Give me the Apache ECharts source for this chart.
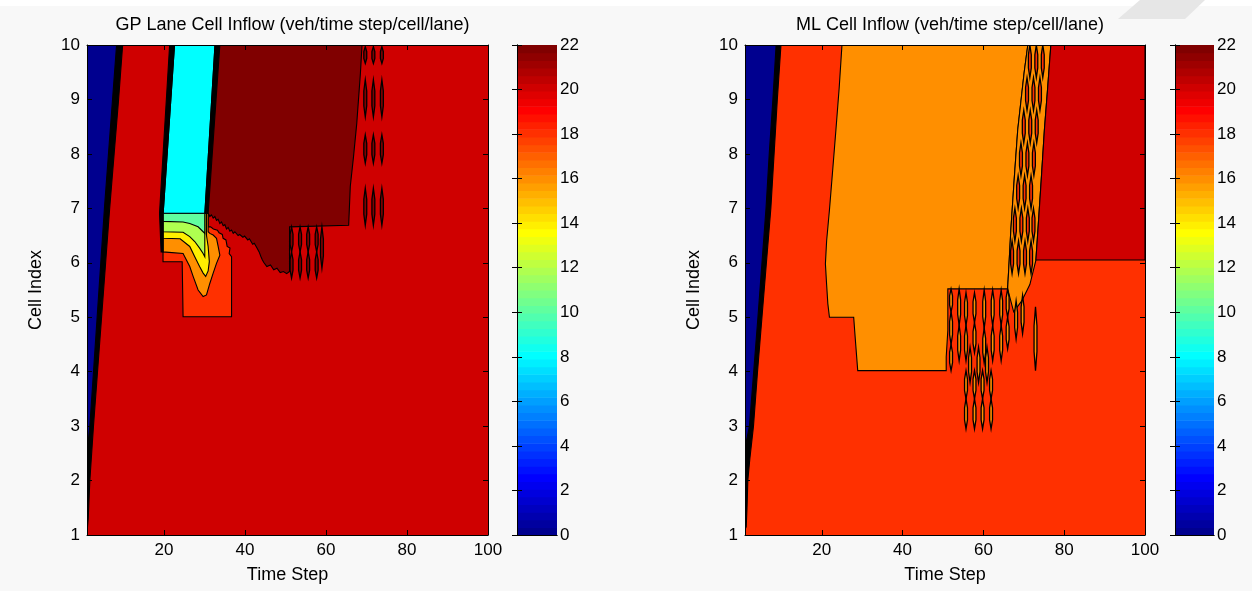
<!DOCTYPE html>
<html><head><meta charset="utf-8">
<script src="https://cdn.jsdelivr.net/npm/echarts@6/dist/echarts.min.js"></script>
<style>html,body{margin:0;padding:0;background:#f8f8f8;}#c{width:1252px;height:591px;}</style>
</head><body><div id="c"></div>
<script>
// ================= DATA =================
const titles = ['GP Lane Cell Inflow (veh/time step/cell/lane)', 'ML Cell Inflow (veh/time step/cell/lane)'];
const xTicks = [20, 40, 60, 80, 100];
const colorMin = 0, colorMax = 22, colorStep = 2;

// ---- GP lane: contour regions [time step, cell index] with level ----
const gpBase = [[1,1],[100,1],[100,10],[1,10]];
const gpFront = [[1,1.05],[1.3,1.3],[1.7,2],[2.6,3],[3.6,4],[4.6,5],[5.6,6],[6.6,7],[7.7,8],[8.8,9],[9.8,10],[8.3,10],[7.3,9],[6.3,8],[5.3,7],[4.4,6],[3.5,5],[2.6,4],[1.7,3],[1,2.5]];
const gpBlue = [[1,10],[8.3,10],[7.3,9],[6.3,8],[5.3,7],[4.4,6],[3.5,5],[2.6,4],[1.7,3],[1,2.5]];
const gp18 = [[19.77,6.91],[19.77,6.02],[24.5,6.02],[24.72,5.01],[36.69,5.01],[36.69,6.11],[36.1,6.17],[36.3,6.27],[35.6,6.3],[35.3,6.42],[34.6,6.45],[34.4,6.52],[33.6,6.55],[33.2,6.6],[32.2,6.62],[31.5,6.66],[30.91,6.66],[30.91,6.91]];
const gp16 = [[19.77,6.91],[19.77,6.2],[24.72,6.17],[26.37,5.93],[27.2,5.75],[28.43,5.5],[29.67,5.38],[30.5,5.41],[31.32,5.62],[32.15,5.81],[32.97,5.99],[33.8,6.14],[33.38,6.3],[32.97,6.45],[32.15,6.51],[31.32,6.54],[30.91,6.57],[30.91,6.91]];
const gp14 = [[19.77,6.91],[19.77,6.45],[24.0,6.44],[26.37,6.3],[27.6,6.11],[28.8,5.93],[29.67,5.81],[30.3,5.75],[30.91,5.85],[31.2,6.02],[30.91,6.3],[30.5,6.5],[30.5,6.91]];
const gp12 = [[19.77,6.91],[19.77,6.57],[24.72,6.56],[26.37,6.48],[27.6,6.39],[28.8,6.27],[29.67,6.17],[30.08,6.11],[30.08,6.91]];
const gp10 = [[19.77,6.91],[19.77,6.76],[24.72,6.75],[26.37,6.72],[28.43,6.66],[29.67,6.57],[30.08,6.54],[30.08,6.91]];
const gpCyan = [[19.8,6.91],[22.6,10],[32.6,10],[30.1,6.91]];
const gpEdgeL = [[19.3,6.2],[18.9,6.91],[21.4,10],[22.6,10],[19.8,6.91],[19.8,6.2]];
const gpEdgeR = [[30.1,6.91],[32.6,10],[33.8,10],[30.9,6.91]];
const gp22 = [[33.8,10],[30.91,6.91],[31.32,6.85],[31.73,6.88],[32.15,6.82],[32.56,6.85],[32.97,6.78],[33.38,6.8],[33.8,6.72],[34.21,6.75],[34.62,6.68],[35.03,6.7],[35.44,6.62],[35.85,6.65],[36.27,6.58],[36.69,6.6],[37.1,6.54],[37.5,6.57],[38.3,6.5],[38.7,6.52],[39.5,6.47],[39.9,6.49],[40.7,6.42],[41.1,6.44],[41.9,6.34],[42.3,6.36],[42.9,6.28],[43.5,6.2],[43.9,6.12],[44.3,6.05],[44.7,6.0],[45.4,5.93],[46.3,5.96],[47.1,5.87],[47.9,5.9],[48.7,5.82],[49.5,5.84],[50.3,5.8],[51.0,5.84],[51.0,6.66],[65.6,6.69],[66.0,7.4],[66.8,7.95],[67.6,8.56],[68.5,9.48],[68.9,10]];
// small oscillation lenses: [time step, cell from, cell to, level]
const gpLenses = [
  [51.5,5.72,6.2,22],[51.5,6.2,6.66,22],[53.6,5.72,6.2,22],[53.6,6.2,6.66,22],
  [55.6,5.72,6.2,22],[55.6,6.2,6.66,22],[57.7,5.72,6.2,22],[57.7,6.2,6.66,22],
  [59.0,5.9,6.66,22],
  [69.7,9.66,9.97,22],[71.7,9.66,9.97,22],[73.8,9.66,9.97,22],
  [69.7,8.68,9.36,22],[71.7,8.68,9.36,22],[73.8,8.68,9.36,22],
  [69.7,7.83,8.35,22],[71.7,7.83,8.35,22],[73.8,7.83,8.35,22],
  [69.7,6.69,7.37,22],[71.7,6.69,7.37,22],[73.8,6.69,7.37,22]
];

// ---- ML: contour regions ----
const mlBase = [[1,1],[100,1],[100,10],[1,10]];
const mlFront = [[1,1.1],[1.3,1.15],[1.5,1.5],[1.7,2],[2.2,2.4],[3.1,3],[4.1,4],[5.2,5],[6.3,6],[7.4,7],[8.2,8],[9.0,9],[9.9,10],[8.7,10],[7.9,9],[7.0,8],[6.2,7],[5.2,6],[4.2,5],[3.15,4],[2.1,3],[1,2.6]];
const mlBlue = [[1,10],[8.7,10],[7.9,9],[7.0,8],[6.2,7],[5.2,6],[4.2,5],[3.15,4],[2.1,3],[1,2.6]];
const ml16 = [[25.0,10],[24.3,9.2],[23.5,8.44],[22.7,7.7],[21.9,6.97],[21.2,6.4],[20.9,5.98],[21.2,5.6],[21.5,5.25],[21.9,5.0],[27.9,5.0],[28.3,4.6],[28.9,4.02],[50.8,4.02],[50.8,4.27],[51.2,4.76],[51.2,5.52],[66.0,5.52],[66.4,6.05],[66.8,6.6],[67.6,7.5],[68.5,8.44],[70.1,9.5],[71.0,10]];
const mlBand = [[71.0,10],[76.7,10],[75.9,9.2],[75.1,8.44],[74.3,7.5],[73.5,6.6],[73.0,6.05],[71.5,5.6],[69.5,5.3],[67.5,5.1],[66.0,5.52],[66.4,6.05],[66.8,6.6],[67.6,7.5],[68.5,8.44],[70.1,9.5]];
const ml20 = [[76.7,10],[100,10],[100,6.05],[73.0,6.05],[73.5,6.6],[74.3,7.5],[75.1,8.44],[75.9,9.2]];
const mlLenses = [
  // diagonal band
  [71.5,9.4,10,18],[73.1,9.4,10,18],[74.7,9.4,10,18],
  [70.8,8.8,9.4,18],[72.4,8.8,9.4,18],[74.0,8.8,9.4,18],
  [70.0,8.2,8.8,18],[71.6,8.2,8.8,18],[73.2,8.2,8.8,18],
  [69.3,7.6,8.2,18],[70.9,7.6,8.2,18],[72.5,7.6,8.2,18],
  [68.6,7.0,7.6,18],[70.2,7.0,7.6,18],[71.8,7.0,7.6,18],
  [67.8,6.4,7.0,18],[69.4,6.4,7.0,18],[71.0,6.4,7.0,18],[72.4,6.4,7.0,18],
  [67.1,5.8,6.4,18],[68.7,5.8,6.4,18],[70.3,5.8,6.4,18],[71.8,5.8,6.4,18],
  // lower oscillation zone
  [52.0,4.02,4.5,16],[52.0,4.5,5.1,16],[52.0,5.1,5.52,16],
  [54.0,4.2,4.85,16],[54.0,4.85,5.52,16],
  [55.7,4.2,4.85,16],[55.7,4.85,5.45,16],
  [57.8,4.35,4.9,16],[57.8,4.9,5.45,16],
  [60.2,4.16,4.8,16],[60.2,4.8,5.5,16],
  [62.3,4.2,4.85,16],[62.3,4.85,5.5,16],
  [64.4,4.2,4.85,16],[64.4,4.85,5.5,16],
  [66.0,4.42,5.0,16],[66.0,5.0,5.52,16],
  [68.1,4.6,5.3,16],[69.7,4.7,5.4,16],
  [56.7,3.8,4.45,16],[58.8,3.8,4.45,16],[60.9,3.8,4.45,16],
  [55.7,3.5,4.02,16],[55.7,2.95,3.5,16],[57.8,3.5,4.02,16],[57.8,2.95,3.5,16],
  [59.8,3.5,4.02,16],[59.8,2.95,3.5,16],[61.9,3.5,4.02,16],[61.9,2.95,3.5,16],
  [72.9,4.02,5.19,16]
];

// ================= RENDERING =================
function jet(level) {
  let row = Math.floor((level - colorMin) / (colorMax - colorMin) * 64) + 1;
  row = Math.max(1, Math.min(64, row));
  let r = 0, g = 0, b = 0;
  if (row <= 8) { b = 0.5 + row / 16; }
  else if (row <= 24) { b = 1; g = (row - 8) / 16; }
  else if (row <= 40) { r = (row - 24) / 16; g = 1; b = 1 - (row - 24) / 16; }
  else if (row <= 56) { r = 1; g = 1 - (row - 40) / 16; }
  else { r = 1 - (row - 56) / 16; }
  const h = v => Math.round(v * 255).toString(16).padStart(2, '0');
  return '#' + h(r) + h(g) + h(b);
}

const gpLayers = [
  {pts: gpBase, level: 20, base: true}, {pts: gpFront, level: null}, {pts: gpBlue, level: 0},
  {pts: gp18, level: 18}, {pts: gp16, level: 16}, {pts: gp14, level: 14},
  {pts: gp12, level: 12}, {pts: gp10, level: 10}, {pts: gpCyan, level: 8},
  {pts: gpEdgeL, level: null}, {pts: gpEdgeR, level: null}, {pts: gp22, level: 22}
];
const mlLayers = [
  {pts: mlBase, level: 18, base: true}, {pts: mlFront, level: null}, {pts: mlBlue, level: 0},
  {pts: ml16, level: 16}, {pts: mlBand, level: 16}, {pts: ml20, level: 20}
];

function regionSeries(layers, idx) {
  return {
    type: 'custom', xAxisIndex: idx * 2, yAxisIndex: idx * 2, clip: true, silent: true,
    data: layers.map(l => l.pts[0]),
    renderItem: function (params, api) {
      const l = layers[params.dataIndex];
      const pts = l.pts.map(p => api.coord(p));
      return {type: 'polygon', shape: {points: pts},
        style: {fill: l.level === null ? '#000' : jet(l.level), stroke: '#000', lineWidth: l.base ? 0 : 1.1}};
    }
  };
}
function lensSeries(lenses, idx) {
  return {
    type: 'custom', xAxisIndex: idx * 2, yAxisIndex: idx * 2, clip: true, silent: true,
    data: lenses, encode: {x: 0, y: 1},
    renderItem: function (params, api) {
      const x = api.value(0), y0 = api.value(1), y1 = api.value(2), lv = api.value(3);
      const h = y1 - y0, w = 0.36;
      const pts = [[x, y0], [x + w, y0 + h * 0.3], [x + w, y1 - h * 0.3], [x, y1], [x - w, y1 - h * 0.3], [x - w, y0 + h * 0.3]].map(p => api.coord(p));
      return {type: 'polygon', shape: {points: pts}, style: {fill: jet(lv), stroke: '#000', lineWidth: 1.3}};
    }
  };
}
const colorBands = [];
for (let i = 0; i < 64; i++) colorBands.push([0, colorMin + i * (colorMax - colorMin) / 64]);
function colorbarSeries(idx) {
  return {
    type: 'custom', xAxisIndex: 4 + idx * 2, yAxisIndex: 4 + idx * 2, silent: true,
    data: colorBands,
    renderItem: function (params, api) {
      const lo = api.value(1), hi = lo + (colorMax - colorMin) / 64;
      const a = api.coord([0, hi]), b = api.coord([1, lo]);
      return {type: 'rect', shape: {x: a[0], y: a[1], width: b[0] - a[0], height: b[1] - a[1] + 0.6},
        style: {fill: jet(lo + 0.001)}};
    }
  };
}

const FONT = 'Liberation Sans, Arial, sans-serif';
const FS = 17, FS_NAME = 18;
const plotGrids = [
  {left: 87, top: 45, width: 401, height: 490},
  {left: 745, top: 45, width: 400, height: 490}
];
const cbGrids = [
  {left: 517, top: 45, width: 40, height: 490},
  {left: 1175, top: 45, width: 39, height: 490}
];
const grids = plotGrids.concat(cbGrids);
const lineBlack = {show: true, lineStyle: {color: '#000', width: 1}};
const xAxes = [], yAxes = [];
[0, 1].forEach(i => {
  xAxes.push({gridIndex: i, type: 'value', min: 1, max: 100, position: 'bottom', z: 10,
    axisLine: lineBlack, splitLine: {show: false},
    axisTick: {inside: true, length: 5, customValues: xTicks, lineStyle: {color: '#000'}},
    axisLabel: {customValues: xTicks, color: '#000', fontFamily: FONT, fontSize: FS, margin: 7},
    name: 'Time Step', nameLocation: 'middle', nameGap: 31,
    nameTextStyle: {color: '#000', fontFamily: FONT, fontSize: FS_NAME}});
  xAxes.push({gridIndex: i, type: 'value', min: 1, max: 100, position: 'top', z: 10,
    axisLine: lineBlack, splitLine: {show: false},
    axisTick: {inside: true, length: 5, customValues: xTicks, lineStyle: {color: '#000'}},
    axisLabel: {show: false}});
  yAxes.push({gridIndex: i, type: 'value', min: 1, max: 10, interval: 1, position: 'left', z: 10,
    axisLine: lineBlack, splitLine: {show: false},
    axisTick: {inside: true, length: 5, lineStyle: {color: '#000'}},
    axisLabel: {color: '#000', fontFamily: FONT, fontSize: FS, margin: 7},
    name: 'Cell Index', nameLocation: 'middle', nameGap: 42, nameRotate: 90,
    nameTextStyle: {color: '#000', fontFamily: FONT, fontSize: FS_NAME}});
  yAxes.push({gridIndex: i, type: 'value', min: 1, max: 10, interval: 1, position: 'right', z: 10,
    axisLine: lineBlack, splitLine: {show: false},
    axisTick: {inside: true, length: 5, lineStyle: {color: '#000'}},
    axisLabel: {show: false}});
});
[0, 1].forEach(i => {
  const g = 2 + i;
  xAxes.push({gridIndex: g, type: 'value', min: 0, max: 1, position: 'bottom', z: 10,
    axisLine: lineBlack, axisTick: {show: false}, axisLabel: {show: false}, splitLine: {show: false}});
  xAxes.push({gridIndex: g, type: 'value', min: 0, max: 1, position: 'top', z: 10,
    axisLine: lineBlack, axisTick: {show: false}, axisLabel: {show: false}, splitLine: {show: false}});
  yAxes.push({gridIndex: g, type: 'value', min: colorMin, max: colorMax, interval: colorStep, position: 'right', z: 10,
    axisLine: lineBlack, splitLine: {show: false},
    axisTick: {inside: true, length: 5, lineStyle: {color: '#000'}},
    axisLabel: {color: '#000', fontFamily: FONT, fontSize: FS, margin: 3}});
  yAxes.push({gridIndex: g, type: 'value', min: colorMin, max: colorMax, interval: colorStep, position: 'left', z: 10,
    axisLine: lineBlack, splitLine: {show: false},
    axisTick: {inside: true, length: 5, lineStyle: {color: '#000'}},
    axisLabel: {show: false}});
});

const option = {
  backgroundColor: '#f8f8f8',
  animation: false,
  title: [0, 1].map(i => ({text: titles[i], left: plotGrids[i].left + plotGrids[i].width / 2, top: 11, textAlign: 'center',
    textStyle: {color: '#000', fontFamily: FONT, fontSize: FS_NAME, fontWeight: 'normal'}})),
  graphic: [
    {type: 'rect', shape: {x: 0, y: 0, width: 1252, height: 6}, style: {fill: '#ffffff'}, silent: true},
    {type: 'polygon', shape: {points: [[1140, 0], [1205, 0], [1185, 19], [1118, 19]]}, style: {fill: '#e6e6e6'}, silent: true}
  ],
  grid: grids,
  xAxis: xAxes,
  yAxis: yAxes,
  series: [
    regionSeries(gpLayers, 0), lensSeries(gpLenses, 0),
    regionSeries(mlLayers, 1), lensSeries(mlLenses, 1),
    colorbarSeries(0), colorbarSeries(1)
  ]
};
const chart = echarts.init(document.getElementById('c'), null, {renderer: 'canvas'});
chart.setOption(option);
</script></body></html>
